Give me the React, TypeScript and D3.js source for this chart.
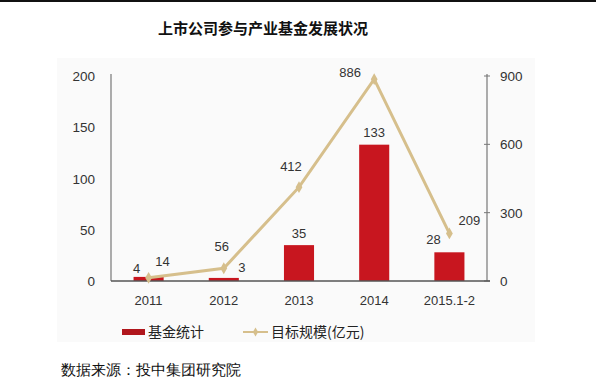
import { useEffect, useRef } from 'react';
import * as d3 from 'd3';

const categories = ['2011', '2012', '2013', '2014', '2015.1-2'];
const fundCounts = [4, 3, 35, 133, 28];
const targetScale = [14, 56, 412, 886, 209];
const leftTicks = [0, 50, 100, 150, 200];
const rightTicks = [0, 300, 600, 900];

// label nudges (dx, dy) relative to the mark
const barLabelOff: [number, number][] = [[-12, -4], [18, -6], [0, -7], [0, -8], [-16, -8]];
const lineLabelOff: [number, number][] = [[14, -12], [-2, -17], [-8, -16], [-24, -2], [20, -8]];

const W = 596, H = 387;
const PAD = { l: 111, r: 487, t: 76, b: 281 };
const BAR = '#c8161f';
const LINE = '#d6bf8c';

export default function App() {
  const svgRef = useRef<SVGSVGElement>(null);

  useEffect(() => {
    if (!svgRef.current) return;
    const svg = d3.select(svgRef.current);
    svg.selectAll('*').remove();

    const font = 'Liberation Sans, Arial, sans-serif';
    const cjk = '"Noto Sans CJK SC", sans-serif';

    // top rule + faint image background
    svg.append('rect').attr('x', 0).attr('y', 0).attr('width', W).attr('height', 2).attr('fill', '#111');
    svg.append('rect').attr('x', 57).attr('y', 58).attr('width', 478).attr('height', 284).attr('fill', '#fafafa');

    svg.append('text')
      .attr('x', 263).attr('y', 34).attr('text-anchor', 'middle')
      .attr('font-family', cjk).attr('font-weight', 700).attr('font-size', 15).attr('fill', '#111')
      .text('上市公司参与产业基金发展状况');

    const x = d3.scaleBand().domain(categories).range([PAD.l, PAD.r]).paddingInner(0.6).paddingOuter(0.3);
    const yL = d3.scaleLinear().domain([0, 200]).range([PAD.b, PAD.t]);
    const yR = d3.scaleLinear().domain([0, 900]).range([PAD.b, PAD.t]);
    const cx = (c: string) => (x(c) ?? 0) + x.bandwidth() / 2;

    // axes
    const axisColor = '#777';
    svg.append('line').attr('x1', PAD.l).attr('x2', PAD.l).attr('y1', PAD.t - 2).attr('y2', PAD.b)
      .attr('stroke', axisColor).attr('stroke-width', 1.2);
    svg.append('line').attr('x1', PAD.r).attr('x2', PAD.r).attr('y1', PAD.t - 2).attr('y2', PAD.b)
      .attr('stroke', axisColor).attr('stroke-width', 1.2);

    leftTicks.forEach(t => {
      svg.append('text').attr('x', 95).attr('y', yL(t) + 5).attr('text-anchor', 'end')
        .attr('font-family', font).attr('font-size', 13.5).attr('fill', '#333').text(t);
    });
    rightTicks.forEach(t => {
      svg.append('line').attr('x1', PAD.r - 3).attr('x2', PAD.r + 3).attr('y1', yR(t)).attr('y2', yR(t))
        .attr('stroke', axisColor);
      svg.append('text').attr('x', 500).attr('y', yR(t) + 5).attr('text-anchor', 'start')
        .attr('font-family', font).attr('font-size', 13.5).attr('fill', '#333').text(t);
    });

    // bars
    svg.selectAll('rect.bar').data(categories).join('rect').attr('class', 'bar')
      .attr('x', d => x(d) ?? 0).attr('width', x.bandwidth())
      .attr('y', (_, i) => yL(fundCounts[i])).attr('height', (_, i) => PAD.b - yL(fundCounts[i]))
      .attr('fill', BAR);

    svg.append('line').attr('x1', PAD.l).attr('x2', PAD.r + 3).attr('y1', PAD.b).attr('y2', PAD.b)
      .attr('stroke', '#555').attr('stroke-width', 1.5);

    categories.forEach(c => {
      svg.append('text').attr('x', cx(c)).attr('y', 305).attr('text-anchor', 'middle')
        .attr('font-family', font).attr('font-size', 13).attr('fill', '#333').text(c);
    });

    // line
    const line = d3.line<number>().x((_, i) => cx(categories[i])).y(d => yR(d));
    svg.append('path').datum(targetScale).attr('d', line)
      .attr('fill', 'none').attr('stroke', LINE).attr('stroke-width', 3);
    const diamond = d3.symbol().type(d3.symbolDiamond).size(40);
    targetScale.forEach((v, i) => {
      svg.append('path').attr('d', diamond)
        .attr('transform', `translate(${cx(categories[i])},${yR(v)})`).attr('fill', LINE);
    });

    // data labels
    fundCounts.forEach((v, i) => {
      const [dx, dy] = barLabelOff[i];
      svg.append('text').attr('x', cx(categories[i]) + dx).attr('y', yL(v) + dy).attr('text-anchor', 'middle')
        .attr('font-family', font).attr('font-size', 13).attr('fill', '#333').text(v);
    });
    targetScale.forEach((v, i) => {
      const [dx, dy] = lineLabelOff[i];
      svg.append('text').attr('x', cx(categories[i]) + dx).attr('y', yR(v) + dy).attr('text-anchor', 'middle')
        .attr('font-family', font).attr('font-size', 13).attr('fill', '#333').text(v);
    });

    // legend
    const ly = 332;
    svg.append('rect').attr('x', 122).attr('y', ly - 3).attr('width', 23).attr('height', 6).attr('fill', '#b0161c');
    svg.append('text').attr('x', 148).attr('y', ly + 5).attr('font-family', cjk).attr('font-size', 14)
      .attr('fill', '#222').text('基金统计');
    svg.append('line').attr('x1', 243).attr('x2', 268).attr('y1', ly).attr('y2', ly)
      .attr('stroke', LINE).attr('stroke-width', 2);
    svg.append('path').attr('d', d3.symbol().type(d3.symbolDiamond).size(24))
      .attr('transform', `translate(255.5,${ly})`).attr('fill', LINE);
    svg.append('text').attr('x', 271).attr('y', ly + 5).attr('font-family', cjk).attr('font-size', 14)
      .attr('fill', '#222').text('目标规模(亿元)');

    svg.append('text').attr('x', 61).attr('y', 375).attr('font-family', 'serif').attr('font-size', 15)
      .attr('fill', '#111').text('数据来源：投中集团研究院');
  }, []);

  return (
    <div style={{ position: 'fixed', left: 0, top: 0, background: '#fff' }}>
      <svg ref={svgRef} width={W} height={H} style={{ display: 'block' }} />
    </div>
  );
}
